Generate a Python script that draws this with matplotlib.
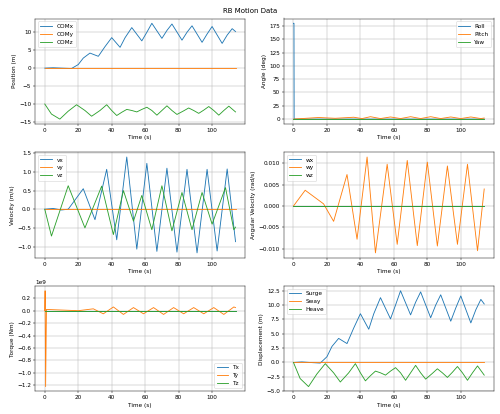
import matplotlib
matplotlib.use("Agg")
import matplotlib.pyplot as plt
import numpy as np

surge_t = [0,5,10,16,20,23,27,32,36,40,45,48,52,58,61,64,70,73,76,82,85,88,94,97,100,106,109,112,114]
surge_v = [0,0.1,0,-0.1,1,2.8,4.2,3.3,6,8.5,5.8,8.5,11.3,7.6,10,12.5,8.3,10.5,12.3,7.8,10,11.8,7.2,9.5,11.6,6.9,9.2,11,10.2]
heave_t = [0,4,9,14,19,24,28,33,37,40,43,46,49,52,55,58,61,64,67,70,73,76,79,83,86,89,92,95,98,101,104,107,110,114]
heave_v = [0,-2.8,-4.2,-2.0,-0.2,-1.8,-3.4,-1.8,-0.2,-1.8,-3.2,-2.3,-1.5,-1.8,-2.2,-1.5,-0.9,-1.8,-3.1,-1.8,-0.5,-1.8,-2.9,-1.9,-1.1,-1.8,-2.6,-1.7,-0.7,-1.8,-3.1,-1.8,-0.6,-2.2]
comz_v = [v - 10 for v in heave_v]

vx_t = [0,5,10,14,23,30,37,43,49,55,61,67,73,79,85,91,97,103,109,114]
vx_v = [0,0.02,-0.02,0,0.55,-0.28,1.07,-0.82,1.4,-1.07,1.23,-1.13,1.1,-1.15,1.07,-1.17,1.07,-1.12,1.08,-0.87]
vz_t = [0,4,14,24,34,41,47,53,58,64,70,76,82,88,94,100,108,113,114]
vz_v = [0,-0.72,0.63,-0.5,0.62,-0.68,0.5,-0.32,0.37,-0.55,0.63,-0.58,0.45,-0.55,0.45,-0.4,0.58,-0.55,-0.48]

wy_t = [0,7,18,24,32,38,44,49,56,62,68,74,80,86,92,98,104,110,114]
wy_v = [0,0.0037,0.0005,-0.0036,0.0074,-0.0078,0.0115,-0.011,0.0098,-0.009,0.0107,-0.0093,0.0103,-0.0094,0.0094,-0.009,0.0098,-0.0105,0.004]

ty_t = [0,0.2,0.5,1,20,29,35,41,47,53,59,65,71,77,83,89,95,101,107,113,114]
ty_v = [0,0.32e9,-1.22e9,0.02e9,0,0.03e9,-0.05e9,0.06e9,-0.06e9,0.05e9,-0.05e9,0.05e9,-0.06e9,0.05e9,-0.05e9,0.05e9,-0.05e9,0.05e9,-0.06e9,0.06e9,0.05e9]

roll_t = [0,0.3,0.4,114]
roll_v = [180,180,0,0]
pitch_t = [0,15,25,36,41,46,52,58,64,70,76,82,88,94,100,106,112,114]
pitch_v = [0,3,1.5,3.5,1,4.5,1,4,1,4.5,1,4.5,1,4,1,4,1,2]

t_end = [0,114]
zero = [0,0]

fig, axs = plt.subplots(3, 2, figsize=(12, 9.936), dpi=500/12)
fig.suptitle("RB Motion Data")

ax = axs[0,0]
ax.plot(surge_t, surge_v, label="COMx")
ax.plot(t_end, zero, label="COMy")
ax.plot(heave_t, comz_v, label="COMz")
ax.set_ylabel("Position (m)"); ax.legend(loc="upper left")

ax = axs[0,1]
ax.plot(roll_t, roll_v, label="Roll")
ax.plot(pitch_t, pitch_v, label="Pitch")
ax.plot(t_end, zero, label="Yaw")
ax.set_ylabel("Angle (deg)"); ax.legend(loc="upper right")

ax = axs[1,0]
ax.plot(vx_t, vx_v, label="vx")
ax.plot(t_end, zero, label="vy")
ax.plot(vz_t, vz_v, label="vz")
ax.set_ylabel("Velocity (m/s)"); ax.legend(loc="upper left")

ax = axs[1,1]
ax.plot(t_end, zero, label="wx")
ax.plot(wy_t, wy_v, label="wy")
ax.plot(t_end, zero, label="wz")
ax.set_ylabel("Angular Velocity (rad/s)"); ax.legend(loc="upper left")

ax = axs[2,0]
ax.plot(t_end, zero, label="Tx")
ax.plot(ty_t, ty_v, label="Ty")
ax.plot(t_end, zero, label="Tz")
ax.set_ylabel("Torque (Nm)"); ax.legend(loc="lower right")

ax = axs[2,1]
ax.plot(surge_t, surge_v, label="Surge")
ax.plot(t_end, zero, label="Sway")
ax.plot(heave_t, heave_v, label="Heave")
ax.set_ylabel("Displacement (m)"); ax.legend(loc="upper left")

for ax in axs.flat:
    ax.set_xlabel("Time (s)")
    ax.grid(True)

fig.tight_layout()
fig.savefig("out.png")
